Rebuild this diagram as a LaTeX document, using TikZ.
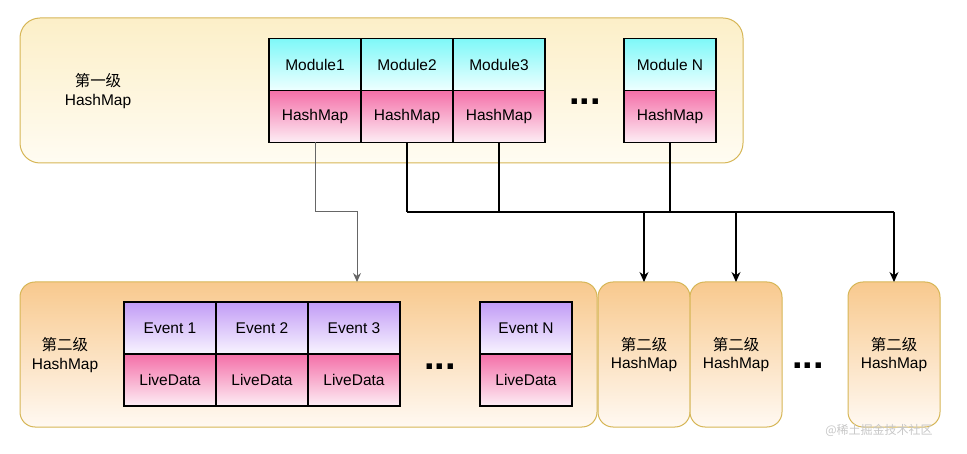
\documentclass[tikz,border=0pt]{standalone}
\usepackage{fontspec}
\setmainfont{Liberation Sans}
\newfontfamily\cjk{Noto Sans CJK SC}
\usepackage{tikz}
\usetikzlibrary{arrows.meta,positioning}
\definecolor{lvlline}{HTML}{D6B656}
\definecolor{lvltop}{HTML}{FCEFC8}
\definecolor{lvlbot}{HTML}{FFFCF2}
\definecolor{subtop}{HTML}{F8C98E}
\definecolor{subbot}{HTML}{FFF9F2}
\definecolor{modtop}{HTML}{7EF8F8}
\definecolor{modbot}{HTML}{EEFFFF}
\definecolor{maptop}{HTML}{F46FA8}
\definecolor{mapbot}{HTML}{FDEEF5}
\definecolor{evtop}{HTML}{C29CF6}
\definecolor{evbot}{HTML}{F8F4FF}
\definecolor{linkgray}{HTML}{666666}

\begin{document}
\begin{tikzpicture}[x=1pt,y=-1pt,
  every node/.style={font=\fontsize{15.5}{18.5}\selectfont},
  cell/.style={draw,line width=1.2pt,minimum width=92pt,minimum height=52pt,
    inner sep=0pt,outer sep=0pt},
  modcell/.style={cell,top color=modtop,bottom color=modbot},
  mapcell/.style={cell,top color=maptop,bottom color=mapbot},
  evcell/.style={cell,top color=evtop,bottom color=evbot},
  lvlbox/.style={draw=lvlline,line width=1pt,rounded corners=20pt,
    minimum height=145pt,inner sep=0pt,outer sep=0pt},
  subbox/.style={lvlbox,rounded corners=15pt,minimum width=92pt,
    top color=subtop,bottom color=subbot,align=center},
  more/.style={font=\fontsize{38}{38}\bfseries,inner sep=0pt},
  link/.style={line width=1.1pt,-{Stealth[length=10pt,width=9pt]}}]
  \useasboundingbox (0,0) rectangle (967,454);
  % first level
  \node[lvlbox,minimum width=723pt,top color=lvltop,bottom color=lvlbot]
    (lvl1) at (381.5,90.5) {};
  \node[align=center] (lvl1name) at (98,91) {{\cjk 第一级}\\HashMap};
  \foreach \i/\txt/\x in {1/Module1/315,2/Module2/407,3/Module3/499,N/Module N/670} {
    \node[modcell] (mod\i) at (\x,64.5) {\txt};
    \node[mapcell,below=0pt of mod\i] (map\i) {HashMap};
  }
  \node[more] (dotsA) at (585,102) {...};
  % second level
  \node[subbox,minimum width=577pt] (lvl2) at (308.5,354.5) {};
  \node[align=center] (lvl2name) at (65,355) {{\cjk 第二级}\\HashMap};
  \foreach \i/\txt/\x in {1/Event 1/170,2/Event 2/262,3/Event 3/354,N/Event N/526} {
    \node[evcell] (ev\i) at (\x,328) {\txt};
    \node[mapcell,below=0pt of ev\i] (ld\i) {LiveData};
  }
  \node[more] (dotsB) at (440,367) {...};
  \foreach \i/\x in {1/644,2/736,3/894}
    \node[subbox] (sub\i) at (\x,354.5) {{\cjk 第二级}\\HashMap};
  \node[more] (dotsC) at (808,366) {...};
  % connectors
  \coordinate (bus) at (0,212);
  \draw[link,linkgray,line width=1pt,-{Stealth[length=9pt,width=8pt]}]
    (map1.south) |- ([xshift=48.5pt]lvl2.north |- bus) -- ([xshift=48.5pt]lvl2.north);
  \foreach \i in {2,3,N}
    \draw[line width=1.1pt] (map\i.south) -- (map\i.south |- bus);
  \draw[line width=1.1pt] (map2.south |- bus) -- (sub3.north |- bus);
  \foreach \i in {1,2,3}
    \draw[link] (sub\i.north |- bus) -- (sub\i.north);
  \node[text=black!22,font=\cjk\fontsize{12}{12}\selectfont] (mark) at (879,430)
    {@稀土掘金技术社区};
\end{tikzpicture}
\end{document}
